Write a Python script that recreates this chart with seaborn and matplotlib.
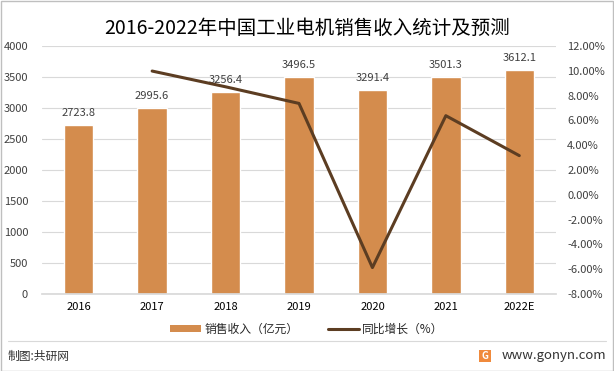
import numpy as np
import pandas as pd
import seaborn as sns
import matplotlib.pyplot as plt
from matplotlib.patches import Patch, Rectangle
from matplotlib.lines import Line2D
from matplotlib.ticker import FuncFormatter

# data
years = ["2016", "2017", "2018", "2019", "2020", "2021", "2022E"]
sales = [2723.8, 2995.6, 3256.4, 3496.5, 3291.4, 3501.3, 3612.1]
growth_years = ["2017", "2018", "2019", "2020", "2021", "2022E"]
growth = [9.98, 8.71, 7.37, -5.87, 6.38, 3.16]

bar_color = "#D48C4D"
line_color = "#5C3D22"

sns.set_theme(style="white")
plt.rcParams['font.family'] = ['Noto Sans CJK SC', 'DejaVu Sans']
plt.rcParams['axes.unicode_minus'] = False

fig = plt.figure(figsize=(6.14, 3.71), dpi=100)
ax = fig.add_axes([42 / 614, 1 - 294 / 371, (556 - 42) / 614, (294 - 46) / 371])

df = pd.DataFrame({"year": years, "sales": sales})
sns.barplot(data=df, x="year", y="sales", color=bar_color, saturation=1,
            width=0.4, ax=ax)
ax.set_ylim(0, 4000)
ax.set_yticks(np.arange(0, 4001, 500))
ax.yaxis.grid(True, color="#D9D9D9", linewidth=0.8)
ax.set_axisbelow(True)
ax.set_xlabel("")
ax.set_ylabel("")
for s in ["top", "right", "left"]:
    ax.spines[s].set_visible(False)
ax.spines["bottom"].set_color("#D9D9D9")
ax.tick_params(axis="both", length=0, labelsize=8, colors="#404040")
ax.tick_params(axis="y", pad=10)
ax.tick_params(axis="x", pad=6, colors="#000000")
for c in ax.containers:
    ax.bar_label(c, labels=[f"{v:.1f}" for v in sales], padding=5,
                 fontsize=8, color="#404040")

ax2 = ax.twinx()
gdf = pd.DataFrame({"pos": [years.index(y) for y in growth_years], "growth": growth})
sns.lineplot(data=gdf, x="pos", y="growth", color=line_color, linewidth=2.2, ax=ax2)
ax2.set_ylim(-8, 12)
ax2.set_yticks(np.arange(-8, 12.1, 2))
ax2.yaxis.set_major_formatter(FuncFormatter(lambda v, p: f"{v:.2f}%"))
ax2.set_ylabel("")
ax2.set_xlabel("")
for s in ["top", "right", "left", "bottom"]:
    ax2.spines[s].set_visible(False)
ax2.tick_params(axis="y", length=0, labelsize=8, colors="#404040", pad=8)
ax.set_xlim(-0.5, 6.5)

fig.text(0.5, 1 - 28 / 371, "2016-2022年中国工业电机销售收入统计及预测",
         ha="center", va="center", fontsize=14, color="#000000")

handles = [Patch(facecolor=bar_color, edgecolor="none"),
           Line2D([0], [0], color=line_color, linewidth=2.2)]
fig.legend(handles, ["销售收入（亿元）", "同比增长（%）"], loc="center",
           bbox_to_anchor=(0.5, 1 - 329 / 371), ncol=2, frameon=False,
           fontsize=8.5, handlelength=2.6, handleheight=0.5, columnspacing=2.5,
           handletextpad=0.3)

fig.add_artist(Line2D([8 / 614, 606 / 614], [1 - 341 / 371, 1 - 341 / 371],
                      color="#D9D9D9", linewidth=0.8))
fig.text(8 / 614, 1 - 356 / 371, "制图:共研网", ha="left", va="center",
         fontsize=8.5, color="#333333")
fig.add_artist(Rectangle((479 / 614, 1 - 362 / 371), 12 / 614, 12 / 371,
                         facecolor="#F08A3C", edgecolor="none"))
fig.text(485 / 614, 1 - 356 / 371, "G", ha="center", va="center",
         fontsize=7, color="white", fontweight="bold")
fig.text(606 / 614, 1 - 356 / 371, "www.gonyn.com", ha="right", va="center",
         fontsize=9.5, color="#333333")
fig.add_artist(Rectangle((0.5 / 614, 0.5 / 371), 612.5 / 614, 369.5 / 371,
                         facecolor="none", edgecolor="#BFBFBF", linewidth=1))

fig.savefig("out.png", dpi=100)
